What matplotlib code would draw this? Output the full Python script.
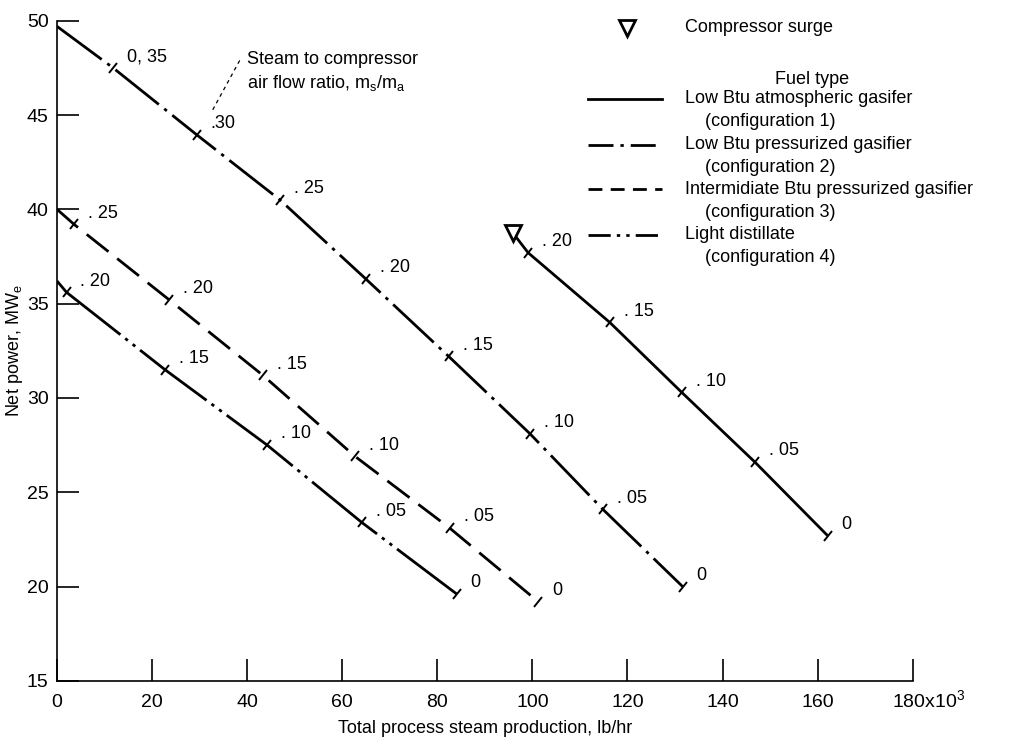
import numpy as np
import matplotlib
matplotlib.use("Agg")
import matplotlib.pyplot as plt
from matplotlib.markers import MarkerStyle
from matplotlib.transforms import Affine2D, ScaledTranslation

plt.rcParams['font.family'] = ['Liberation Sans', 'DejaVu Sans']
plt.rcParams['mathtext.default'] = 'regular'

# Total process steam production (10^3 lb/hr) and net power (MWe) per configuration
steam_c1 = [95.9, 99.1, 116.3, 131.4, 146.8, 162.1]
power_c1 = [38.75, 37.7, 34.0, 30.3, 26.6, 22.7]
labels_c1 = ["", ". 20", ". 15", ". 10", ". 05", "0"]

steam_c2 = [0, 11.8, 29.4, 46.9, 65.0, 82.4, 99.5, 114.8, 131.6]
power_c2 = [49.7, 47.5, 43.95, 40.5, 36.3, 32.2, 28.1, 24.1, 20.0]
labels_c2 = ["", "0, 35", ".30", ". 25", ". 20", ". 15", ". 10", ". 05", "0"]

steam_c3 = [0, 3.6, 23.6, 43.3, 62.7, 82.6, 101.2]
power_c3 = [40.0, 39.2, 35.2, 31.2, 26.9, 23.1, 19.2]
labels_c3 = ["", ". 25", ". 20", ". 15", ". 10", ". 05", "0"]

steam_c4 = [0, 2.0, 22.7, 44.2, 64.1, 84.1]
power_c4 = [36.2, 35.6, 31.5, 27.5, 23.4, 19.6]
labels_c4 = ["", ". 20", ". 15", ". 10", ". 05", "0"]

fuel_names = [
    ("Low Btu atmospheric gasifer", "(configuration 1)"),
    ("Low Btu pressurized gasifier", "(configuration 2)"),
    ("Intermidiate Btu pressurized gasifier", "(configuration 3)"),
    ("Light distillate", "(configuration 4)"),
]

x_ticks = list(range(0, 181, 20))
y_ticks = list(range(15, 51, 5))

# dash patterns (in units of line width)
styles = [
    '-',
    (0, (20, 2.5, 1.2, 2.5)),
    (0, (10, 4)),
    (0, (30, 2.2, 1.2, 2.2, 1.2, 2.2)),
]
legend_styles = [
    '-',
    (0, (9, 2.5, 1.2, 2.5)),
    (0, (5, 3)),
    (0, (8, 2.2, 1.2, 2.2, 1.2, 2.2)),
]

fs = 13

fig = plt.figure(figsize=(10.09, 7.40), dpi=100)
ax = fig.add_axes([0.0565, 0.080, 0.848, 0.892])
ax.set_xlim(0, 180)
ax.set_ylim(15, 50)

for side in ('top', 'right'):
    ax.spines[side].set_visible(False)
for side in ('left', 'bottom'):
    ax.spines[side].set_linewidth(1.2)

ax.set_xticks(x_ticks)
ax.set_xticklabels([str(v) for v in x_ticks[:-1]] + [r"180x10$^3$"])
ax.set_yticks(y_ticks)
ax.tick_params(axis='x', direction='in', length=16, width=1.2, labelsize=14, pad=19)
ax.tick_params(axis='y', direction='in', length=16, width=1.2, labelsize=14, pad=6)
# keep every x label on the same baseline (the last one carries a superscript)
for lbl in ax.get_xticklabels():
    lbl.set_verticalalignment('baseline')
last = ax.get_xticklabels()[-1]
last.set_horizontalalignment('left')
last.set_transform(last.get_transform() + ScaledTranslation(-15 / 72, 0, fig.dpi_scale_trans))

ax.set_xlabel("Total process steam production, lb/hr", fontsize=fs, labelpad=6)
ax.set_ylabel("Net power, MW$_e$", fontsize=fs, labelpad=1)

series = [
    (steam_c1, power_c1, labels_c1),
    (steam_c2, power_c2, labels_c2),
    (steam_c3, power_c3, labels_c3),
    (steam_c4, power_c4, labels_c4),
]

for (xs, ys, labs), ls in zip(series, styles):
    ax.plot(xs, ys, color='black', lw=2.0, linestyle=ls, solid_capstyle='butt',
            dash_capstyle='butt')
    # small ticks across the line at each flow ratio
    p0 = ax.transData.transform((xs[0], ys[0]))
    p1 = ax.transData.transform((xs[-1], ys[-1]))
    ang = np.degrees(np.arctan2(p1[1] - p0[1], p1[0] - p0[0]))
    mk = MarkerStyle('|', transform=Affine2D().rotate_deg(ang))
    idx = [i for i, t in enumerate(labs) if t]
    ax.plot([xs[i] for i in idx], [ys[i] for i in idx], linestyle='none',
            marker=mk, markersize=9, markeredgewidth=1.4, color='black')
    for i in idx:
        ax.annotate(labs[i], (xs[i], ys[i]), xytext=(10, 8), textcoords='offset points',
                    ha='left', va='center', fontsize=fs)

# compressor surge point
ax.plot(steam_c1[0], power_c1[0], marker='v', markersize=11, markerfacecolor='white',
        markeredgecolor='black', markeredgewidth=2.0, linestyle='none', zorder=5)

# flow ratio note with leader
ax.plot([0.182, 0.214], [0.865, 0.941], transform=ax.transAxes, color='black',
        lw=0.9, linestyle=(0, (3, 3)), clip_on=False)
ax.text(0.222, 0.941, "Steam to compressor", transform=ax.transAxes, fontsize=fs,
        ha='left', va='center')
ax.text(0.222, 0.906, r"air flow ratio, m$_s$/m$_a$", transform=ax.transAxes,
        fontsize=fs, ha='left', va='center')

# key
ax.plot([0.666], [0.989], transform=ax.transAxes, marker='v', markersize=11,
        markerfacecolor='white', markeredgecolor='black', markeredgewidth=2.0,
        clip_on=False)
ax.text(0.734, 0.989, "Compressor surge", transform=ax.transAxes, fontsize=fs,
        ha='left', va='center')
ax.text(0.882, 0.911, "Fuel type", transform=ax.transAxes, fontsize=fs,
        ha='center', va='center')
row_y = [0.882, 0.812, 0.745, 0.676]
for (name, conf), ls, yy in zip(fuel_names, legend_styles, row_y):
    ax.plot([0.621, 0.707], [yy, yy], transform=ax.transAxes, color='black', lw=2.0,
            linestyle=ls, clip_on=False)
    ax.text(0.734, yy, name, transform=ax.transAxes, fontsize=fs, ha='left', va='center')
    ax.text(0.757, yy - 0.035, conf, transform=ax.transAxes, fontsize=fs,
            ha='left', va='center')

fig.savefig("out.png", dpi=100)
